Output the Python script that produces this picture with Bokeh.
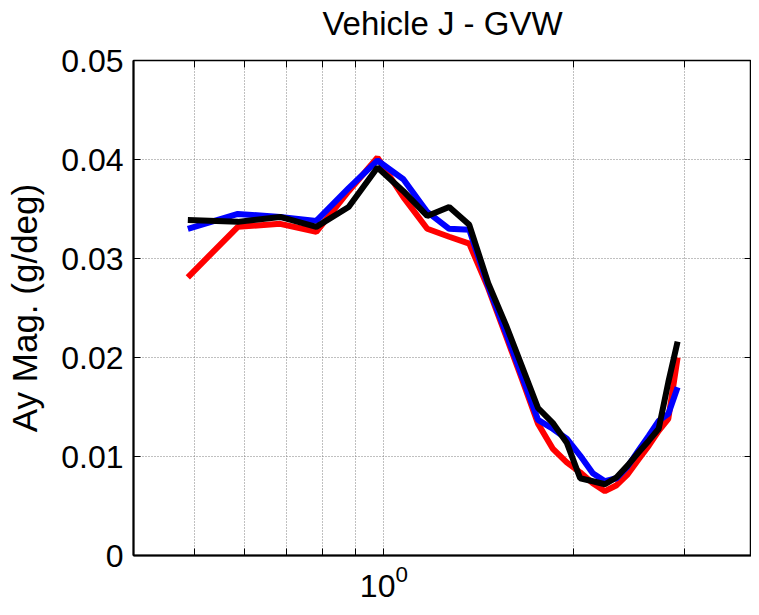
from bokeh.plotting import figure
from bokeh.models import FixedTicker, LogAxis, LinearAxis, Range1d
from bokeh.embed import file_html
from bokeh.resources import INLINE

# Frequency (Hz) of each sample
freq = [0.488, 0.586, 0.684, 0.781, 0.879, 0.977, 1.074, 1.172, 1.270, 1.367,
        1.465, 1.563, 1.660, 1.758, 1.855, 1.953, 2.051, 2.148, 2.246, 2.344,
        2.441, 2.539, 2.637, 2.734, 2.832, 2.930]

# Ay magnitude (g/deg) for the three runs
red_vals = [0.0281, 0.0332, 0.0335, 0.0327, 0.0368, 0.0402, 0.0362, 0.0330, 0.0322, 0.0315,
            0.0270, 0.0222, 0.0177, 0.0133, 0.0108, 0.0094, 0.0084, 0.0073, 0.0065, 0.0071,
            0.0082, 0.0097, 0.0111, 0.0126, 0.0138, 0.0200]
blue_vals = [0.0330, 0.0345, 0.0342, 0.0338, 0.0371, 0.0399, 0.0380, 0.0347, 0.0330, 0.0329,
             0.0272, 0.0225, 0.0180, 0.0137, 0.0128, 0.0118, 0.0101, 0.0083, 0.0075, 0.0078,
             0.0090, 0.0106, 0.0121, 0.0136, 0.0143, 0.0170]
black_vals = [0.0339, 0.0337, 0.0342, 0.0332, 0.0352, 0.0392, 0.0368, 0.0343, 0.0352, 0.0334,
              0.0275, 0.0233, 0.0190, 0.0149, 0.0134, 0.0114, 0.0078, 0.0075, 0.0072, 0.0079,
              0.0091, 0.0104, 0.0116, 0.0128, 0.0175, 0.0216]

# Axis ticks
x_major = [1]
x_minor = [0.5, 0.6, 0.7, 0.8, 0.9, 2, 3]
y_ticks = [0, 0.01, 0.02, 0.03, 0.04, 0.05]
y_tick_labels = ["0", "0.01", "0.02", "0.03", "0.04", "0.05"]
title_text = "Vehicle J - GVW"

FONT = "Liberation Sans"

p = figure(width=751, height=607, x_axis_type="log",
           x_range=Range1d(0.4, 3.84), y_range=Range1d(0, 0.05),
           output_backend="svg", toolbar_location=None,
           min_border_left=133, min_border_right=0,
           min_border_top=60, min_border_bottom=52)

p.background_fill_color = "white"
p.border_fill_color = "white"
p.outline_line_color = "black"
p.outline_line_width = 1.5

p.line(freq, red_vals, line_color="#FF0000", line_width=6)
p.line(freq, blue_vals, line_color="#0000FF", line_width=6)
p.line(freq, black_vals, line_color="#000000", line_width=6)

xt = FixedTicker(ticks=x_major, minor_ticks=x_minor)
yt = FixedTicker(ticks=y_ticks, minor_ticks=[])

xa = p.xaxis[0]
xa.ticker = xt
ya = p.yaxis[0]
ya.ticker = yt
ya.major_label_overrides = {t: l for t, l in zip(y_ticks, y_tick_labels)}
ya.axis_label = "Ay Mag. (g/deg)"
ya.axis_label_text_font = FONT
ya.axis_label_text_font_size = "35px"
ya.axis_label_text_font_style = "normal"
ya.axis_label_text_color = "black"
ya.axis_label_standoff = 14

for ax in (xa, ya):
    ax.axis_line_color = "black"
    ax.axis_line_width = 2
    ax.major_tick_in = 7
    ax.major_tick_out = 0
    ax.minor_tick_in = 7
    ax.minor_tick_out = 0
    ax.major_tick_line_color = "black"
    ax.minor_tick_line_color = "black"
    ax.major_label_text_font = FONT
    ax.major_label_text_font_size = "32px"
    ax.major_label_text_color = "black"
ya.major_label_standoff = 10
xa.major_label_standoff = 9
ya.minor_tick_line_color = None

# top box edge: ticks inward, chart title carried as its label
top_axis = LogAxis(ticker=xt, major_label_text_font_size="1px", major_label_text_color=None,
                   major_label_standoff=0,
                   major_tick_in=7, major_tick_out=0, minor_tick_in=7, minor_tick_out=0,
                   axis_line_color=None, major_tick_line_color="black",
                   minor_tick_line_color="black",
                   axis_label=title_text, axis_label_text_font=FONT,
                   axis_label_text_font_size="33px", axis_label_text_font_style="normal",
                   axis_label_text_color="black", axis_label_standoff=19)
p.add_layout(top_axis, "above")
right_axis = LinearAxis(ticker=yt, major_label_text_font_size="1px", major_label_text_color=None,
                        major_label_standoff=0,
                        major_tick_in=7, major_tick_out=0, minor_tick_line_color=None,
                        axis_line_color=None, major_tick_line_color="black")
p.add_layout(right_axis, "right")

for g in (p.xgrid[0], p.ygrid[0]):
    g.grid_line_color = "#808080"
    g.grid_line_dash = "1 2"
    g.grid_line_width = 1
p.xgrid[0].minor_grid_line_color = "#808080"
p.xgrid[0].minor_grid_line_dash = "1 2"
p.xgrid[0].minor_grid_line_width = 1

open("out.html", "w").write(file_html(p, INLINE))
